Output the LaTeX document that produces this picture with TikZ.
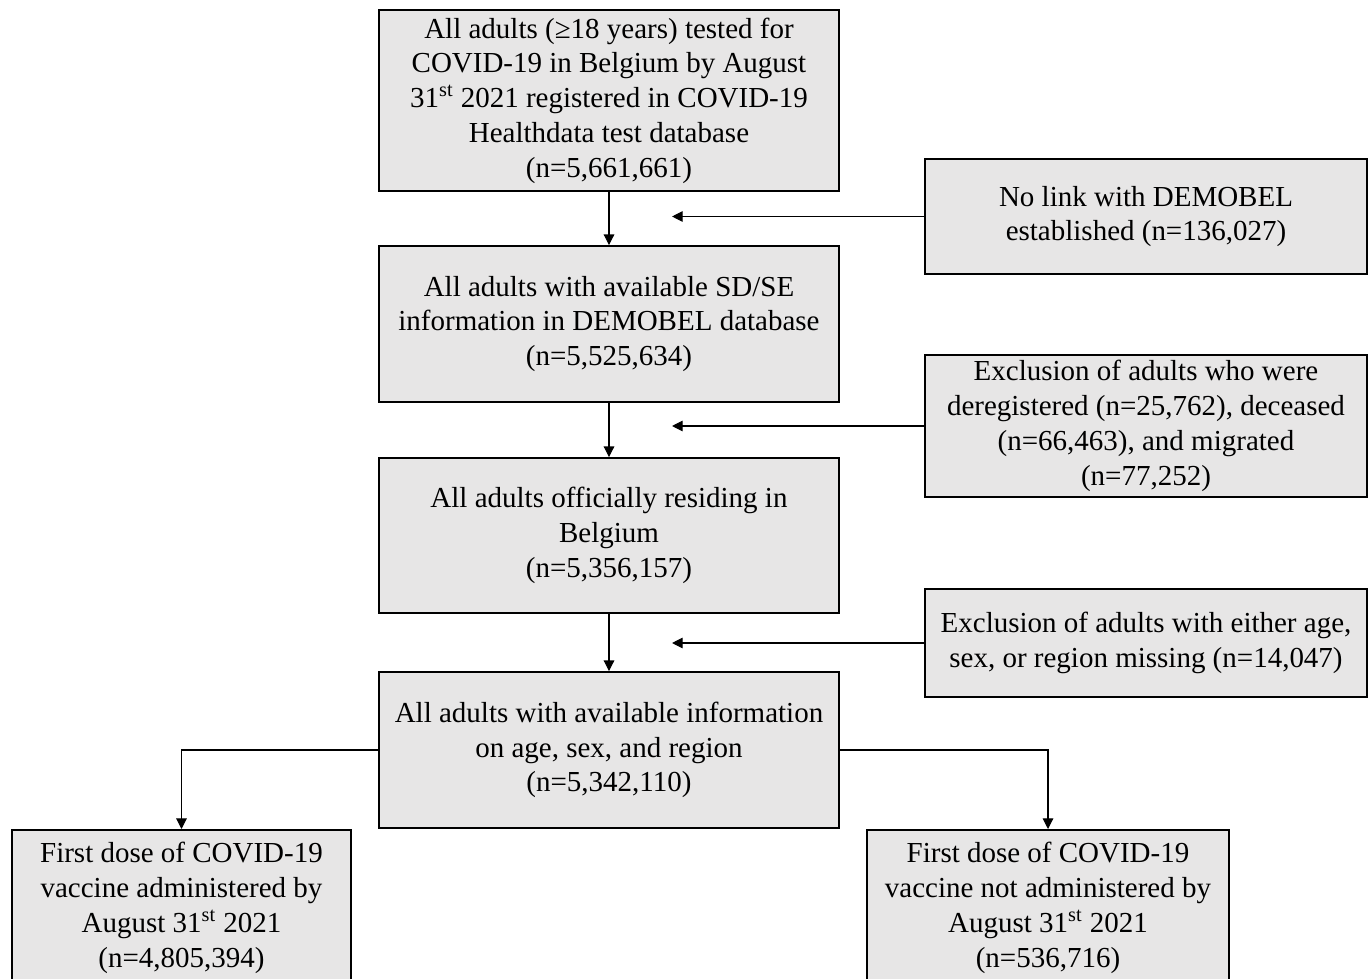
\documentclass[tikz,border=0pt]{standalone}
\usepackage{fontspec}
\setmainfont{Liberation Serif}
\usepackage{xcolor}
\usetikzlibrary{arrows.meta}
\definecolor{boxgray}{RGB}{231,230,230}

\begin{document}
\begin{tikzpicture}[node distance=4.3cm,
	box/.style={rectangle, draw, line width=1.1pt, fill=boxgray, align=center, inner sep=2pt,
		font=\fontsize{16.5}{19.8}\selectfont},
	arrow/.style={line width=0.6pt, -{Triangle[length=6pt,width=6pt]}}]
					\useasboundingbox (0,0) rectangle (27.36,-19.58);

					\node[box, minimum width=9.2cm, minimum height=3.62cm] (b1) at (12.18,-2.01) {All adults (≥18 years) tested for\\COVID-19 in Belgium by August\\31\textsuperscript{st} 2021 registered in COVID-19\\Healthdata test database\\(n=5,661,661)};
					\node[box, minimum width=9.2cm, minimum height=3.12cm] (b2)[below of = b1, node distance=4.47cm] {All adults with available SD/SE\\information in DEMOBEL database\\(n=5,525,634)};
					\node[box, minimum width=9.2cm, minimum height=3.10cm] (b3)[below of = b2, node distance=4.23cm] {All adults officially residing in\\Belgium\\(n=5,356,157)};
					\node[box, minimum width=9.2cm, minimum height=3.12cm] (b4)[below of = b3, node distance=4.29cm] {All adults with available information\\on age, sex, and region\\(n=5,342,110)};

					\node[box, minimum width=8.84cm, minimum height=2.30cm] (ra) at (22.92,-4.33) {No link with DEMOBEL\\established (n=136,027)};
					\node[box, minimum width=8.84cm, minimum height=2.84cm] (rb) at (22.92,-8.52) {Exclusion of adults who were\\deregistered (n=25,762), deceased\\(n=66,463), and migrated\\(n=77,252)};
					\node[box, minimum width=8.84cm, minimum height=2.16cm] (rc) at (22.92,-12.86) {Exclusion of adults with either age,\\sex, or region missing (n=14,047)};

					\node[box, minimum width=6.78cm, minimum height=3.12cm, anchor=north] (bl) at (3.63,-16.58) {First dose of COVID-19\\vaccine administered by\\August 31\textsuperscript{st} 2021\\(n=4,805,394)};
					\node[box, minimum width=7.24cm, minimum height=3.12cm, anchor=north] (br) at (20.96,-16.58) {First dose of COVID-19\\vaccine not administered by\\August 31\textsuperscript{st} 2021\\(n=536,716)};

					\path (ra.west) ++(-5.04,0) coordinate (ta);
					\path (rb.west) ++(-5.04,0) coordinate (tb);
					\path (rc.west) ++(-5.04,0) coordinate (tc);

					\path[arrow]
					(b1) edge (b2)
					(b2) edge (b3)
					(b3) edge (b4)
					(ra.west) edge (ta)
					(rb.west) edge (tb)
					(rc.west) edge (tc)
					;
					\draw[arrow] (b4.west) -| (bl.north);
					\draw[arrow] (b4.east) -| (br.north);
				\end{tikzpicture}
\end{document}
